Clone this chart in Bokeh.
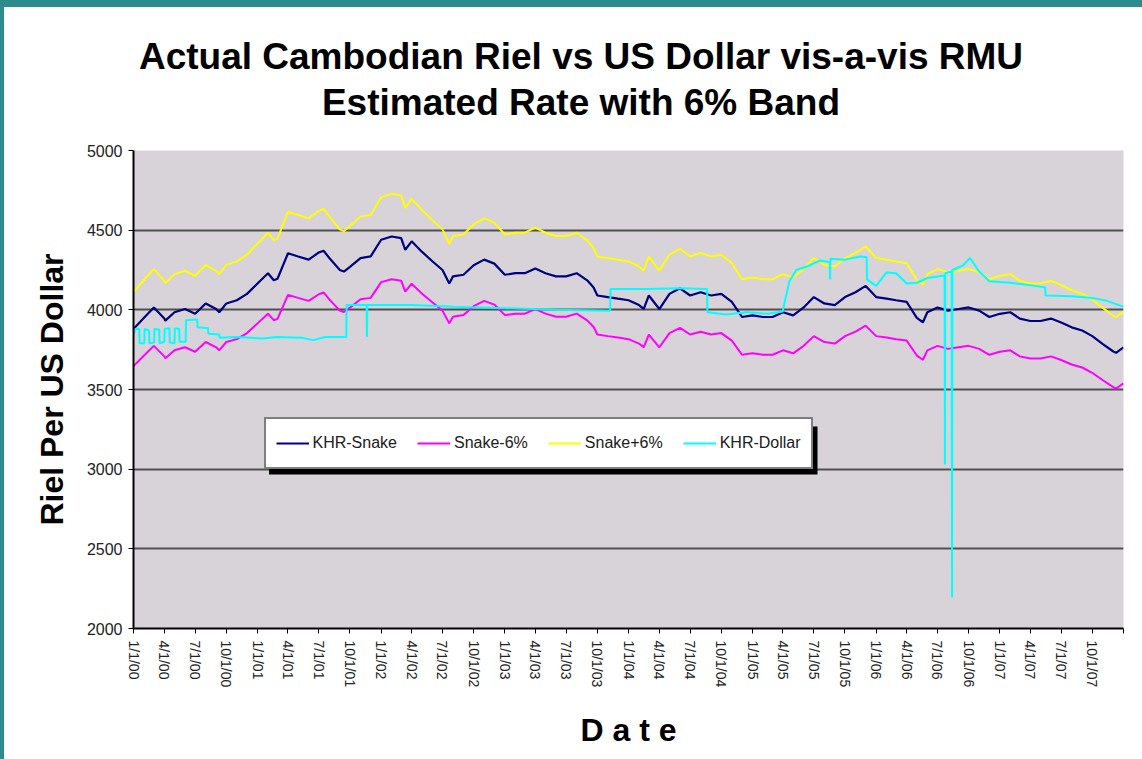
import pandas as pd
from bokeh.plotting import figure
from bokeh.layouts import row, column
from bokeh.models import (Range1d, FixedTicker, CustomJSTickFormatter, Legend,
                          LegendItem, BoxAnnotation, ColumnDataSource, Div)
from bokeh.embed import file_html
from bokeh.resources import INLINE

# ---------------- data ----------------
# monthly readings (1st of each month, Jan 2000 .. Jan 2008)
month_dates = list(pd.date_range("2000-01-01", periods=97, freq="MS").strftime("%Y-%m-%d"))

khr_snake = [
    3880, 3950, 4015, 3945, 3985, 4005, 3975, 4040, 4005, 4040, 4060, 4100,
    4165, 4230, 4195, 4355, 4335, 4315, 4360, 4325, 4250, 4270, 4325, 4335,
    4440, 4460, 4450, 4430, 4365, 4305, 4250, 4210, 4220, 4280, 4315, 4290,
    4220, 4230, 4230, 4260, 4230, 4210, 4210, 4230, 4185, 4090, 4080, 4070,
    4060, 4030, 4090, 4005, 4100, 4135, 4090, 4110, 4090, 4100, 4050, 3955,
    3965, 3955, 3955, 3985, 3965, 4015, 4080, 4040, 4030, 4080, 4110, 4150,
    4080, 4070, 4060, 4050, 3950, 3985, 4015, 3995, 4005, 4015, 3995, 3955,
    3975, 3985, 3945, 3930, 3930, 3945, 3920, 3890, 3870, 3835, 3785, 3740,
    3765,
]
snake_minus6 = [
    3647, 3713, 3774, 3708, 3746, 3765, 3737, 3798, 3765, 3798, 3816, 3854,
    3915, 3976, 3943, 4094, 4075, 4056, 4098, 4066, 3995, 4014, 4066, 4075,
    4174, 4192, 4183, 4164, 4103, 4047, 3995, 3957, 3967, 4023, 4056, 4033,
    3967, 3976, 3976, 4004, 3976, 3957, 3957, 3976, 3934, 3845, 3835, 3826,
    3816, 3788, 3845, 3765, 3854, 3887, 3845, 3863, 3845, 3854, 3807, 3718,
    3727, 3718, 3718, 3746, 3727, 3774, 3835, 3798, 3788, 3835, 3863, 3901,
    3835, 3826, 3816, 3807, 3713, 3746, 3774, 3755, 3765, 3774, 3755, 3718,
    3737, 3746, 3708, 3694, 3694, 3708, 3685, 3657, 3638, 3605, 3558, 3516,
    3539,
]
snake_plus6 = [
    4113, 4187, 4256, 4182, 4224, 4245, 4214, 4282, 4245, 4282, 4304, 4346,
    4415, 4484, 4447, 4616, 4595, 4574, 4622, 4585, 4505, 4526, 4585, 4595,
    4706, 4728, 4717, 4696, 4627, 4563, 4505, 4463, 4473, 4537, 4574, 4547,
    4473, 4484, 4484, 4516, 4484, 4463, 4463, 4484, 4436, 4335, 4325, 4314,
    4304, 4272, 4335, 4245, 4346, 4383, 4335, 4357, 4335, 4346, 4293, 4192,
    4203, 4192, 4192, 4224, 4203, 4256, 4325, 4282, 4272, 4325, 4357, 4399,
    4325, 4314, 4304, 4293, 4187, 4224, 4256, 4235, 4245, 4256, 4235, 4192,
    4214, 4224, 4182, 4166, 4166, 4182, 4155, 4123, 4102, 4065, 4012, 3964,
    3991,
]

# extra readings at visible turning points between month starts
extra_dates = ["2000-04-04", "2000-09-10", "2001-02-18", "2001-07-15",
               "2001-09-13", "2002-03-13", "2002-07-21", "2003-09-20",
               "2004-02-15", "2006-05-19", "2007-12-10"]
extra_snake = [3932, 3985, 4186, 4371, 4240, 4377, 4165, 4140,
               4006, 3922, 3730]
extra_minus6 = [3696, 3746, 3935, 4109, 3986, 4114, 3915, 3892,
                3766, 3687, 3506]
extra_plus6 = [4168, 4224, 4437, 4633, 4494, 4640, 4415, 4388,
               4246, 4157, 3954]

dollar_dates = [
    "2000-01-01", "2000-01-06", "2000-01-18", "2000-01-19", "2000-02-02", "2000-02-03",
    "2000-02-16", "2000-02-17", "2000-03-02", "2000-03-03", "2000-03-17", "2000-03-18",
    "2000-04-01", "2000-04-02", "2000-04-16", "2000-04-17", "2000-05-01", "2000-05-02",
    "2000-05-15", "2000-05-16", "2000-06-03", "2000-06-04", "2000-07-07", "2000-07-08",
    "2000-08-08", "2000-08-09", "2000-09-10", "2000-09-11", "2000-11-01", "2001-01-15",
    "2001-03-01", "2001-05-10", "2001-06-15", "2001-07-20", "2001-09-20", "2001-09-21",
    "2001-11-19", "2001-11-20", "2001-11-21", "2002-04-01", "2002-08-01", "2003-01-01",
    "2003-06-01", "2003-11-08", "2003-11-09", "2004-03-01", "2004-06-01", "2004-08-20",
    "2004-08-21", "2004-10-15", "2004-12-15", "2005-02-15", "2005-03-31", "2005-04-20",
    "2005-05-10", "2005-06-15", "2005-07-20", "2005-08-17", "2005-08-18", "2005-08-19",
    "2005-10-01", "2005-11-15", "2005-12-04", "2005-12-05", "2006-01-01", "2006-02-01",
    "2006-03-01", "2006-04-01", "2006-05-01", "2006-06-01", "2006-07-22", "2006-07-23",
    "2006-07-24", "2006-08-12", "2006-08-13", "2006-08-14", "2006-09-15", "2006-10-05",
    "2006-11-01", "2006-12-01", "2007-02-01", "2007-04-01", "2007-05-15", "2007-05-16",
    "2007-08-01", "2007-10-01", "2007-11-15", "2007-12-31",
]
khr_dollar = [
    3840, 3880, 3880, 3790, 3790, 3880,
    3870, 3790, 3795, 3880, 3875, 3790,
    3800, 3880, 3885, 3795, 3790, 3885,
    3880, 3800, 3800, 3935, 3940, 3890,
    3885, 3850, 3845, 3825, 3830, 3820,
    3830, 3825, 3810, 3830, 3830, 4030,
    4030, 3830, 4030, 4030, 4020, 4010,
    4000, 3995, 4130, 4130, 4135, 4130,
    3985, 3970, 3985, 3975, 3990, 4180,
    4250, 4275, 4310, 4300, 4190, 4320,
    4315, 4335, 4330, 4190, 4150, 4235,
    4230, 4165, 4170, 4200, 4215, 3030,
    4230, 4240, 2195, 4250, 4280, 4325,
    4240, 4180, 4170, 4155, 4140, 4090,
    4085, 4075, 4055, 4020,
]

tick_dates = [
    "2000-01-01", "2000-04-01", "2000-07-01", "2000-10-01",
    "2001-01-01", "2001-04-01", "2001-07-01", "2001-10-01",
    "2002-01-01", "2002-04-01", "2002-07-01", "2002-10-01",
    "2003-01-01", "2003-04-01", "2003-07-01", "2003-10-01",
    "2004-01-01", "2004-04-01", "2004-07-01", "2004-10-01",
    "2005-01-01", "2005-04-01", "2005-07-01", "2005-10-01",
    "2006-01-01", "2006-04-01", "2006-07-01", "2006-10-01",
    "2007-01-01", "2007-04-01", "2007-07-01", "2007-10-01",
    "2008-01-01",
]
tick_labels = [
    "1/1/00", "4/1/00", "7/1/00", "10/1/00",
    "1/1/01", "4/1/01", "7/1/01", "10/1/01",
    "1/1/02", "4/1/02", "7/1/02", "10/1/02",
    "1/1/03", "4/1/03", "7/1/03", "10/1/03",
    "1/1/04", "4/1/04", "7/1/04", "10/1/04",
    "1/1/05", "4/1/05", "7/1/05", "10/1/05",
    "1/1/06", "4/1/06", "7/1/06", "10/1/06",
    "1/1/07", "4/1/07", "7/1/07", "10/1/07",
    "",
]
y_ticks = [2000, 2500, 3000, 3500, 4000, 4500, 5000]

series_names = ["KHR-Snake", "Snake-6%", "Snake+6%", "KHR-Dollar"]
series_colors = ["#000080", "#ff00ff", "#ffff00", "#00ffff"]
title_lines = ["Actual Cambodian Riel vs US Dollar vis-a-vis RMU",
               "Estimated Rate with 6% Band"]

# ---------------- layout constants ----------------
FONT = "Liberation Sans"
TEAL = "#2e8b8b"
STRIP = 4          # left teal strip width
TITLE_H = 130      # height of title block
PW, PH = 1142 - STRIP, 759 - TITLE_H

title_div = Div(
    text=("<div style=\"font-family:'Liberation Sans',Arial,sans-serif;font-weight:bold;"
          "font-size:37px;line-height:46px;text-align:center;color:black;"
          "padding-left:16px;padding-top:27px;border-top:7px solid %s;"
          "width:%dpx;height:%dpx;box-sizing:border-box;margin:0;\">%s<br>%s</div>")
         % (TEAL, PW, TITLE_H, title_lines[0], title_lines[1]),
    width=PW, height=TITLE_H, margin=0)

left_strip = Div(text="", width=STRIP, height=759, margin=0,
                 styles={"background-color": TEAL})

p = figure(width=PW, height=PH, x_axis_type="datetime",
           x_range=Range1d(pd.Timestamp("2000-01-01"), pd.Timestamp("2008-01-01")),
           y_range=Range1d(2000, 5000),
           output_backend="svg", toolbar_location=None,
           min_border_left=133 - STRIP, min_border_right=19,
           min_border_top=150 - TITLE_H, min_border_bottom=PH - (628 - TITLE_H),
           margin=0)
p.background_fill_color = "#d7d3d9"
p.border_fill_color = "white"
p.outline_line_color = None

p.xgrid.visible = False
p.ygrid.ticker = FixedTicker(ticks=y_ticks)
p.ygrid.grid_line_color = "#505050"
p.ygrid.grid_line_width = 2

# y axis
p.yaxis.ticker = FixedTicker(ticks=y_ticks)
p.yaxis.axis_line_color = "black"
p.yaxis.axis_line_width = 2
p.yaxis.major_tick_out = 5
p.yaxis.major_tick_in = 0
p.yaxis.minor_tick_out = 0
p.yaxis.minor_tick_in = 0
p.yaxis.major_tick_line_color = "black"
p.yaxis.major_label_text_font = FONT
p.yaxis.major_label_text_font_size = "16px"
p.yaxis.major_label_text_color = "#222222"
p.yaxis.major_label_standoff = 6
p.yaxis.axis_label = "Riel Per US Dollar"
p.yaxis.axis_label_text_font = FONT
p.yaxis.axis_label_text_font_style = "bold"
p.yaxis.axis_label_text_font_size = "32px"
p.yaxis.axis_label_text_color = "black"
p.yaxis.axis_label_standoff = 14

# x axis
tick_ms = [int(pd.Timestamp(d).value // 10**6) for d in tick_dates]
p.xaxis.ticker = FixedTicker(ticks=tick_ms)
p.xaxis.formatter = CustomJSTickFormatter(
    args=dict(tpos=tick_ms, tlab=tick_labels),
    code="const i = tpos.indexOf(tick); return i >= 0 ? tlab[i] : '';")
p.xaxis.axis_line_color = "black"
p.xaxis.axis_line_width = 2
p.xaxis.major_tick_out = 5
p.xaxis.major_tick_in = 0
p.xaxis.minor_tick_out = 0
p.xaxis.minor_tick_in = 0
p.xaxis.major_tick_line_color = "black"
p.xaxis.major_label_orientation = "vertical"
p.xaxis.major_label_text_font = FONT
p.xaxis.major_label_text_font_size = "14px"
p.xaxis.major_label_text_color = "#222222"
p.xaxis.major_label_standoff = 7
p.xaxis.axis_label = "D a t e"
p.xaxis.axis_label_text_font = FONT
p.xaxis.axis_label_text_font_style = "bold"
p.xaxis.axis_label_text_font_size = "32px"
p.xaxis.axis_label_text_color = "black"
p.xaxis.axis_label_standoff = 22

# ---------------- lines ----------------
snake_df = pd.DataFrame({
    "date": pd.to_datetime(month_dates + extra_dates),
    "snake": khr_snake + extra_snake,
    "minus": snake_minus6 + extra_minus6,
    "plus": snake_plus6 + extra_plus6,
}).sort_values("date")
src_snake = ColumnDataSource(snake_df)
src_dollar = ColumnDataSource(dict(date=pd.to_datetime(dollar_dates), dollar=khr_dollar))

r1 = p.line("date", "snake", source=src_snake, line_color=series_colors[0], line_width=2.2)
r2 = p.line("date", "minus", source=src_snake, line_color=series_colors[1], line_width=2)
r3 = p.line("date", "plus", source=src_snake, line_color=series_colors[2], line_width=2)
r4 = p.line("date", "dollar", source=src_dollar, line_color=series_colors[3], line_width=2)

# legend with drop shadow
shadow = BoxAnnotation(left=135.5, right=684, bottom=154, top=202,
                       left_units="screen", right_units="screen",
                       bottom_units="screen", top_units="screen",
                       fill_color="black", fill_alpha=1, line_color=None)
p.add_layout(shadow)

legend = Legend(items=[LegendItem(label=n, renderers=[r]) for n, r in
                       zip(series_names, [r1, r2, r3, r4])],
                orientation="horizontal", location=(130.5, 159),
                padding=10, spacing=20, glyph_width=33, glyph_height=28,
                label_height=28, label_standoff=4, margin=0,
                label_text_font=FONT, label_text_font_size="16px",
                label_text_color="#202020",
                border_line_color="black", border_line_width=2,
                background_fill_color="white", background_fill_alpha=1)
p.add_layout(legend, "center")

layout = row(left_strip, column(title_div, p, spacing=0), spacing=0)

open("out.html", "w").write(file_html(layout, INLINE))
